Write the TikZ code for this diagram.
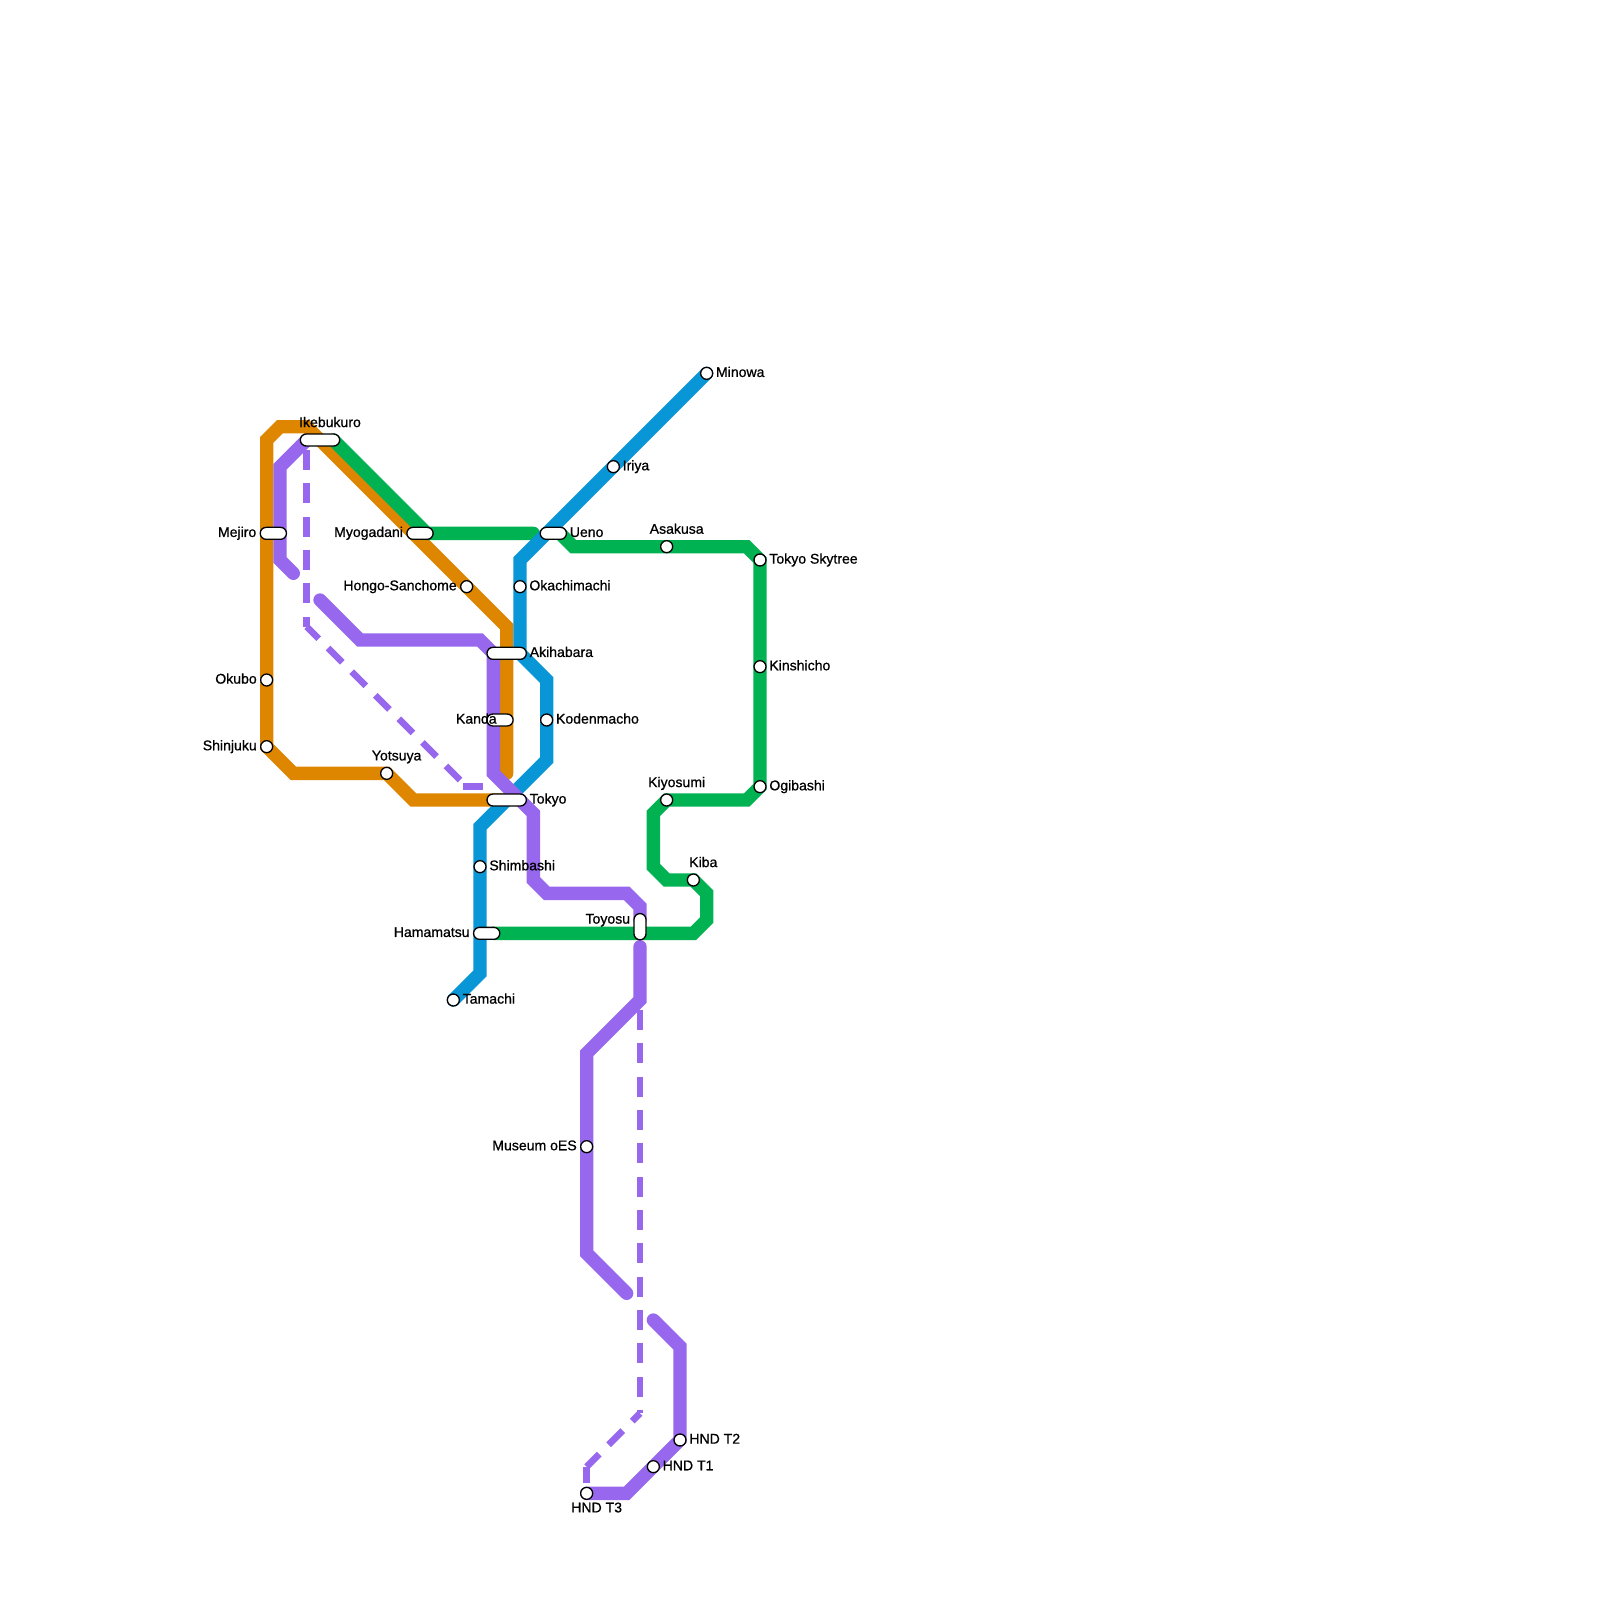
\documentclass[tikz,border=0pt]{standalone}
\usepackage{xcolor}
\usepackage{fontspec}
\usetikzlibrary{
  positioning
}
\newfontfamily\stnfont[FakeBold=0.8]{Liberation Sans}
\definecolor{orangeC}{HTML}{DF8600}
\definecolor{greenC}{HTML}{00B251}
\definecolor{blueC}{HTML}{0896D7}
\definecolor{purpleC}{HTML}{9768EE}
\pgfdeclarelayer{lines}
\pgfsetlayers{lines,main}
\tikzset{
  metro/.style={line width=7.11pt, line cap=round, line join=miter},
  branch/.style={draw=purpleC, line width=3.56pt,
    dash pattern=on 10.67pt off 7.11pt, dash phase=#1},
  stn/.style={circle, draw=black, fill=white, line width=0.7pt, inner sep=0pt,
    outer sep=0pt, minimum size=6.4pt},
  pill/.style={rectangle, draw=black, fill=white, line width=0.7pt, inner sep=0pt,
    outer sep=0pt, rounded corners=3.2pt},
  stntext/.style={inner sep=0pt, outer sep=0pt, text=black,
    font=\stnfont\fontsize{7.5pt}{8pt}\selectfont,
    text height=5.35pt, text depth=1.5pt},
  txtright/.style={right=1.8pt of #1},
  txtleft/.style={left=2.1pt of #1},
  txtabove/.style={above=2.2pt of #1, xshift=5.33pt},
  txtbelow/.style={below=1.6pt of #1, xshift=5.33pt},
  txtkanda/.style={left=-5.2pt of #1},
  txttoyosu/.style={left=2.1pt of #1, yshift=3.55pt}
}

\begin{document}
\begin{tikzpicture}[
  x=0.25cm,
  y=-0.25cm
]

\useasboundingbox (0,0) rectangle (120,120);

% Round stations.
\foreach \id/\x/\y/\pos/\txt in {
  Minowa/53/28/txtright/Minowa,
  Iriya/46/35/txtright/Iriya,
  Asakusa/50/41/txtabove/Asakusa,
  Skytree/57/42/txtright/Tokyo Skytree,
  Kinshicho/57/50/txtright/Kinshicho,
  Ogibashi/57/59/txtright/Ogibashi,
  Kiyosumi/50/60/txtabove/Kiyosumi,
  Kiba/52/66/txtabove/Kiba,
  Okachimachi/39/44/txtright/Okachimachi,
  Kodenmacho/41/54/txtright/Kodenmacho,
  Shimbashi/36/65/txtright/Shimbashi,
  Tamachi/34/75/txtright/Tamachi,
  Hongo/35/44/txtleft/Hongo-Sanchome,
  Okubo/20/51/txtleft/Okubo,
  Shinjuku/20/56/txtleft/Shinjuku,
  Yotsuya/29/58/txtabove/Yotsuya,
  Museum/44/86/txtleft/Museum oES,
  HndTwo/51/108/txtright/HND T2,
  HndOne/49/110/txtright/HND T1,
  HndThree/44/112/txtbelow/HND T3}{
  \node[stn] (\id) at (\x,\y) {};
  \node[stntext, \pos=\id] (\id-text) {\txt};
}

% Interchange stations.
\foreach \id/\x/\y/\w/\h/\pos/\txt in {
  Ikebukuro/24/33/21/6.4/txtabove/Ikebukuro,
  Mejiro/20.5/40/14/6.4/txtleft/Mejiro,
  Myogadani/31.5/40/14/6.4/txtleft/Myogadani,
  Ueno/41.5/40/14/6.4/txtright/Ueno,
  Akihabara/38/49/21/6.4/txtright/Akihabara,
  Kanda/37.5/54/14/6.4/txtkanda/Kanda,
  Tokyo/38/60/21/6.4/txtright/Tokyo,
  Hamamatsu/36.5/70/14/6.4/txtleft/Hamamatsu,
  Toyosu/48/69.5/6.4/14/txttoyosu/Toyosu}{
  \node[pill, minimum width=\w pt, minimum height=\h pt] (\id) at (\x,\y) {};
  \node[stntext, \pos=\id] (\id-text) {\txt};
}

\begin{pgfonlayer}{lines}
% Orange loop.
\draw[metro, orangeC] (Tokyo.center) -- (31,60) -- (Yotsuya.center) -- (22,58)
  -- (Shinjuku.center) -- (Okubo.center) -- (20,33) -- (21,32) -- (23,32)
  -- (Hongo.center) -- (38,47) -- (38,58);

% Green line, cut at Ueno.
\draw[metro, greenC] (25,33) -- (32,40) -- (40,40);
\draw[metro, greenC] (42,40) -- (43,41) -- (Asakusa.center) -- (56,41)
  -- (Skytree.center) -- (Kinshicho.center) -- (Ogibashi.center) -- (56,60)
  -- (Kiyosumi.center) -- (49,61) -- (49,65) -- (50,66) -- (Kiba.center)
  -- (53,67) -- (53,69) -- (52,70) -- (37,70);

% Blue line.
\draw[metro, blueC] (Minowa.center) -- (Iriya.center) -- (39,42)
  -- (Okachimachi.center) -- (39,49) -- (41,51) -- (Kodenmacho.center)
  -- (41,57) -- (36,62) -- (Shimbashi.center) -- (36,73) -- (Tamachi.center);

% Purple line, broken where the branches run.
\draw[metro, purpleC] (23,33) -- (21,35) -- (21,42) -- (22,43);
\draw[metro, purpleC] (24,45) -- (27,48) -- (36,48) -- (37,49) -- (37,58)
  -- (40,61) -- (40,66) -- (41,67) -- (47,67) -- (48,68) -- (48,69);
\draw[metro, purpleC] (48,71) -- (48,75) -- (44,79) -- (Museum.center)
  -- (44,94) -- (47,97);
\draw[metro, purpleC] (49,99) -- (51,101) -- (HndTwo.center)
  -- (HndOne.center) -- (47,112) -- (HndThree.center);

% Dashed branches, piece by piece.
\foreach \xa/\ya/\xb/\yb/\ph in {23/33/23/47/12.45pt, 23/47/35/59/1.6pt,
  34.75/59/37/59/0pt, 48/75/48/106/12.45pt,
  48/106/44/110/4.8pt, 44/110/44/112/1.78pt}{
  \draw[branch=\ph] (\xa,\ya) -- (\xb,\yb);
}
\end{pgfonlayer}

\end{tikzpicture}
\end{document}
